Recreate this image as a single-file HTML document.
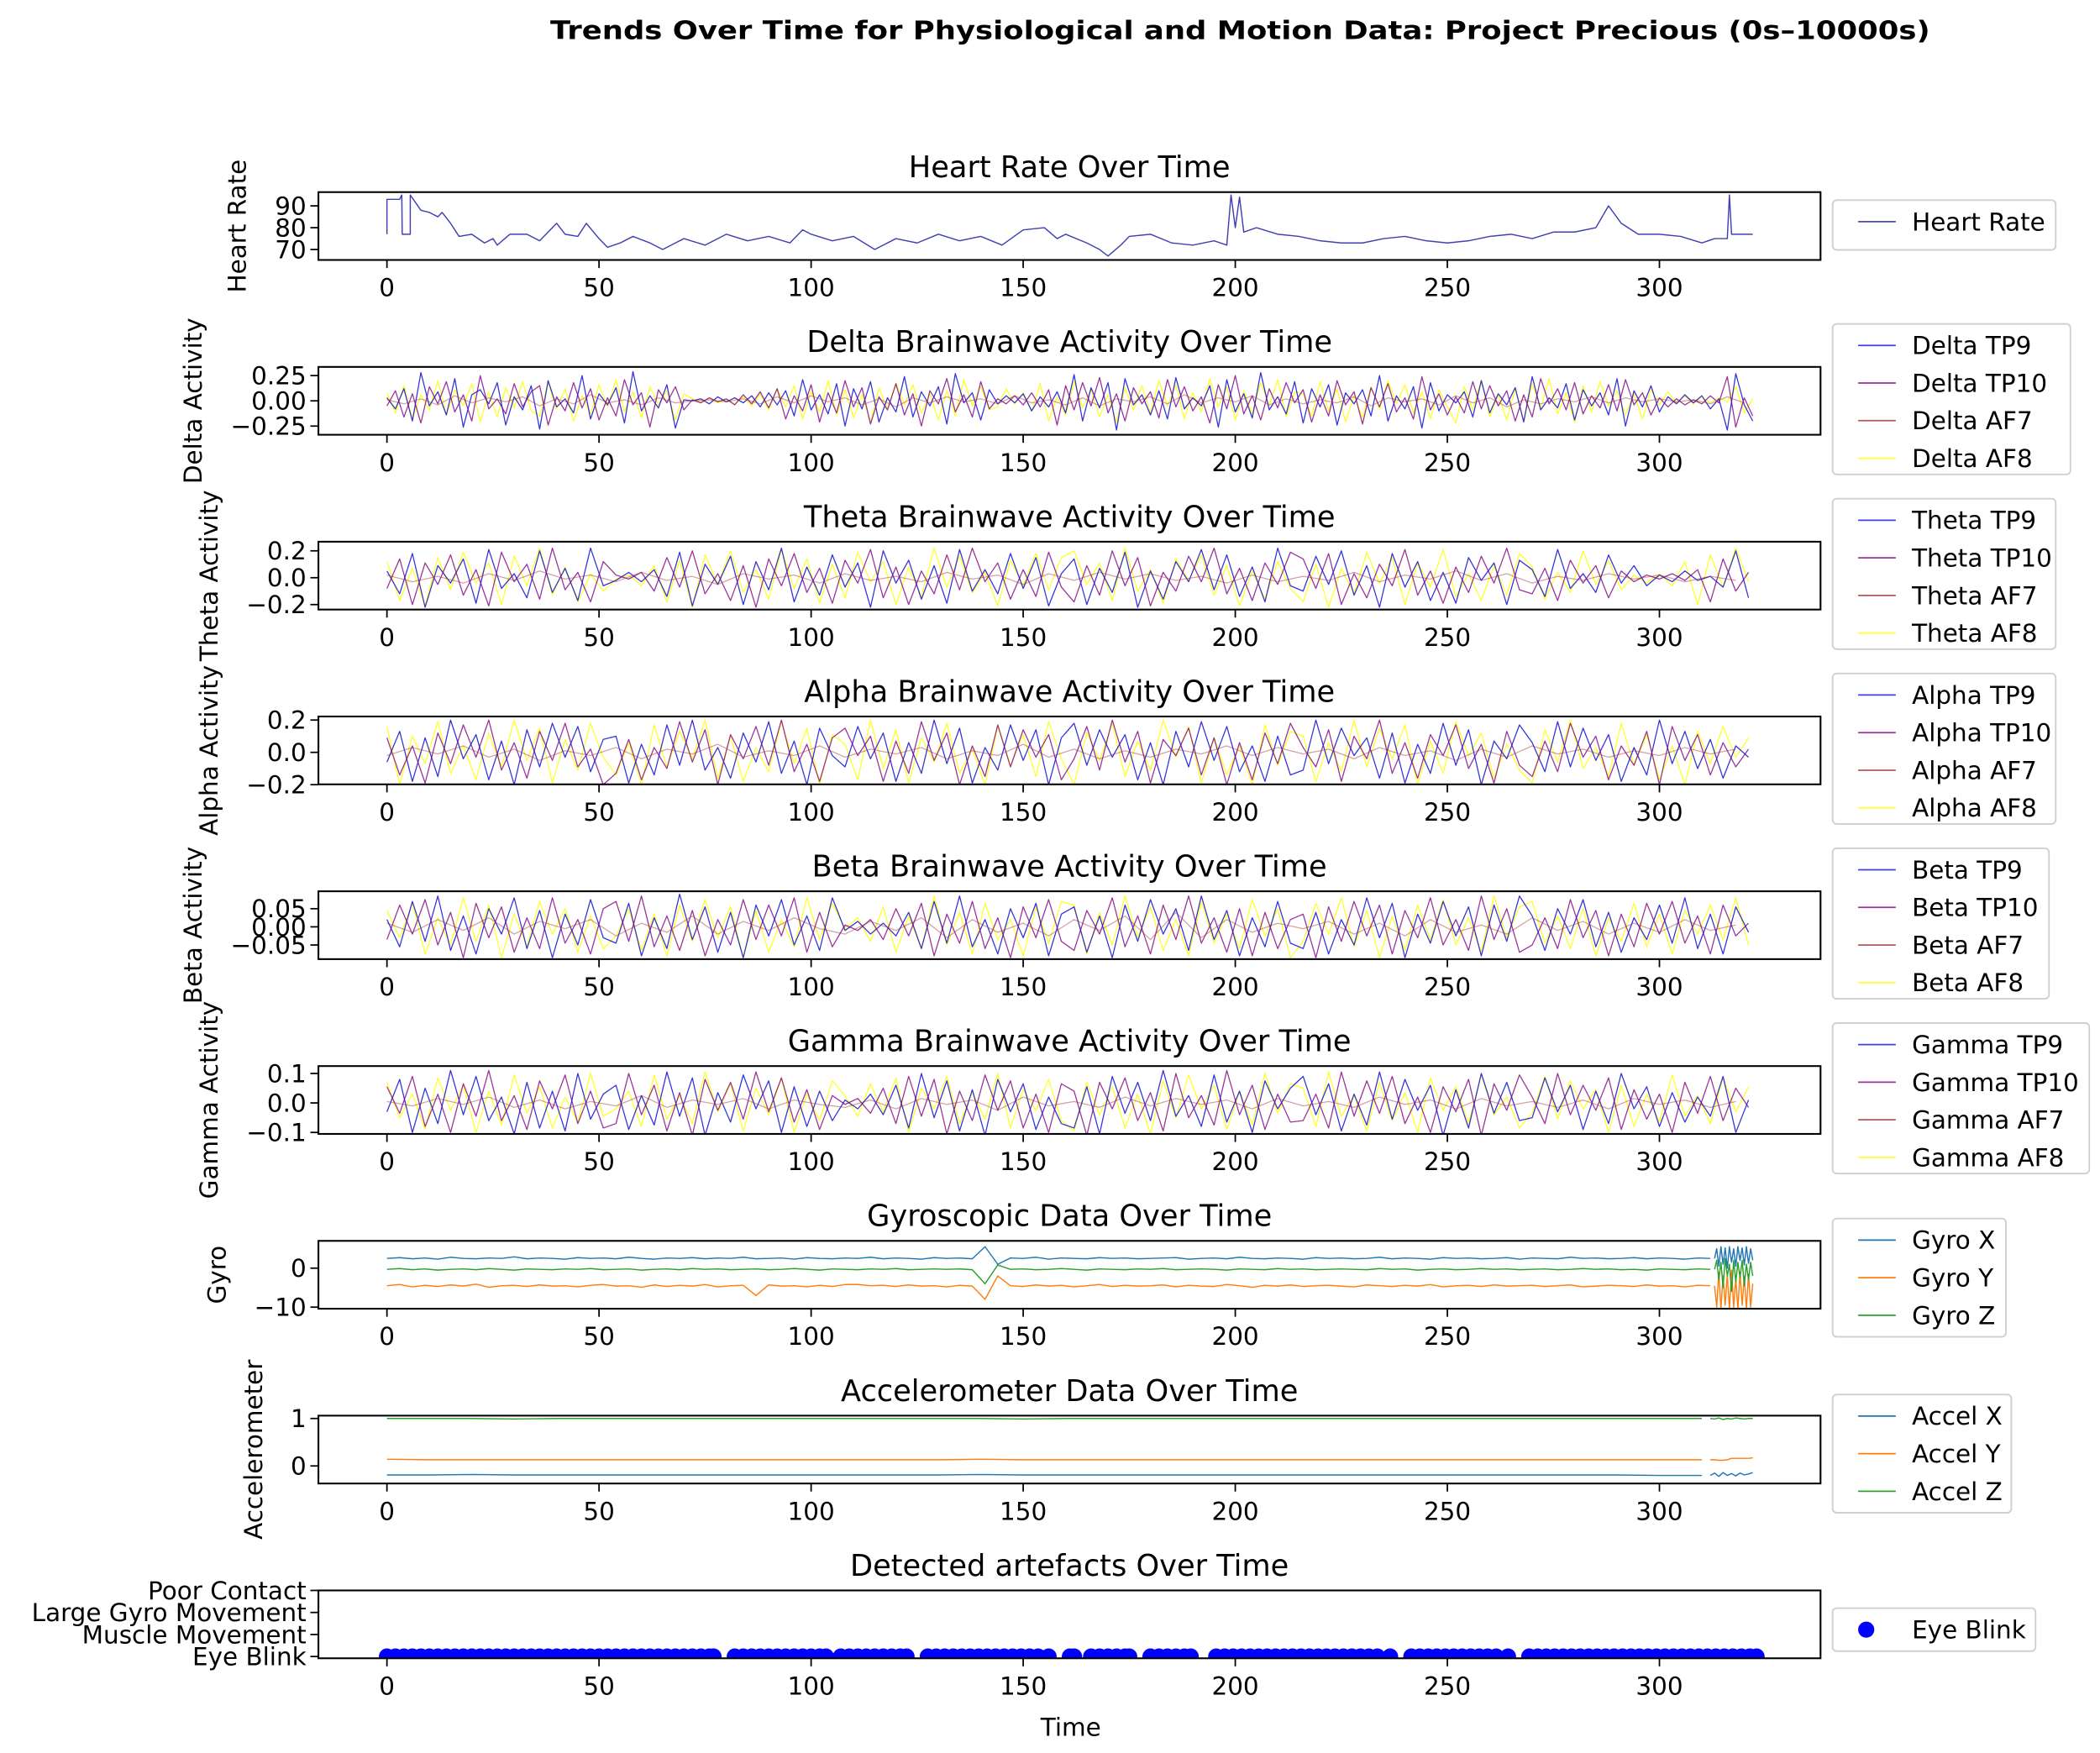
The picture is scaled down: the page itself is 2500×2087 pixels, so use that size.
<!DOCTYPE html>
<html><head><meta charset="utf-8"><title>Trends Over Time</title>
<style>
html,body{margin:0;padding:0;background:#fff;}
svg{display:block;font-family:"DejaVu Sans","Liberation Sans",sans-serif;}
</style></head>
<body>
<svg id="fig" xmlns="http://www.w3.org/2000/svg" width="2500" height="2087" viewBox="0 0 1563 1304.8" preserveAspectRatio="none">
<rect x="0" y="0" width="1563" height="1304.8" fill="#fff"/>
<text x="923" y="29" text-anchor="middle" font-weight="bold" font-size="19" textLength="1027" lengthAdjust="spacingAndGlyphs">Trends Over Time for Physiological and Motion Data: Project Precious (0s–10000s)</text>
<text x="797" y="1292" text-anchor="middle" font-size="18.4">Time</text>
</svg>
<script>
// ---------- data ----------
const xTicks=[0,50,100,150,200,250,300];
const hrT=[0,0,3,3.5,3.6,5.5,5.5,8,10,12,13,15,17,20,23,25,26,29,33,36,38,40,42,45,47,50,52,55,58,62,65,68,70,75,80,85,90,95,98,100,105,110,115,120,125,130,135,140,145,150,155,158,160,165,168,170,173,175,180,185,190,195,198,199,200,201,202,205,210,215,220,225,230,235,240,245,250,255,260,265,270,275,280,285,288,291,295,300,305,310,313,316,316.5,317,322];
const hrV=[77,93,93,95,77,77,95,88,87,85,87,82,76,77,73,75,72,77,77,74,78,82,77,76,82,75,71,73,76,73,70,73,75,72,77,74,76,73,79,77,74,76,70,75,73,77,74,76,72,79,80,75,77,73,70,67,72,76,77,73,72,74,72,95,80,94,78,80,77,76,74,73,73,75,76,74,73,74,76,77,75,78,78,80,90,82,77,77,76,73,75,75,95,77,77];

const deltaTP9=[3,-8,12,-20,28,-5,9,-14,22,-26,6,11,-3,18,-24,4,-9,15,-28,20,-6,2,-12,25,-18,7,-4,13,-22,29,-10,5,-7,16,-27,1,0,2,-3,4,-1,3,-2,5,-6,8,-4,10,-15,21,-9,6,-13,17,-25,12,-8,19,-21,3,-11,24,-16,9,-5,14,-23,27,-2,8,-19,11,-3,5,-2,7,-10,4,-6,9,-12,26,-20,13,-7,18,-29,22,-4,6,-14,10,-18,23,-8,3,-5,15,-26,21,-11,7,-17,28,-9,4,-13,19,-22,12,-6,16,-24,8,-3,11,-15,25,-20,5,-8,14,-27,18,-10,6,-2,9,-16,20,-12,7,-4,13,-21,24,-9,3,-7,17,-19,11,-5,8,-14,22,-25,10,-6,15,-11,4,-3,6,-2,5,-8,2,-29,27,-4,-20];
const deltaTP10=[-5,10,-16,7,-22,14,-3,19,-11,6,-20,25,-8,2,-13,17,-6,9,15,-24,4,-10,18,-7,12,-19,3,-15,21,-4,8,-26,11,-2,14,-9,1,-2,3,-1,2,-4,6,-3,9,-7,12,-18,5,-10,16,-21,8,-12,20,-6,13,-23,4,-9,17,-14,7,-25,10,-3,22,-11,6,-16,19,-8,2,-3,5,-4,8,-6,11,-24,15,-9,18,-5,23,-12,7,-20,13,-3,9,-17,21,-6,14,-10,4,-22,16,-8,25,-13,5,-19,12,-7,18,-2,11,-21,6,-15,20,-4,9,-23,13,-6,17,-11,3,-18,24,-9,7,-14,4,-12,19,-8,15,-5,10,-20,6,-16,22,-3,12,-9,18,-13,5,-7,16,-10,21,-4,8,-14,3,-6,2,-4,1,-3,5,-2,24,-26,3,-15];
const deltaAF7=[1,-3,2,-4,5,-2,3,-1,4,-5,2,-3,6,-2,1,-4,3,-2,0,1,-1,2,-3,4,-2,5,-1,3,-4,2,-6,3,-2,4,-1,2,-3,5,-2,1,-4,3,-5,2,-1,4,-3,6,-2,3,-1,5,-4,2,-3,1,-2,4,-5,3,-1,2,-4,5,-2,3,-6,1,-3,2,-1,4,-2,3,-1,2,-1,1,-3,4,-2];
const deltaAF8=[8,-12,15,-18,6,-9,20,-14,11,-5,17,-21,9,-16,13,-7,19,-10,-15,18,-8,12,-20,5,-13,16,-6,21,-11,9,-17,14,-4,10,-19,7,2,-1,3,-2,1,-3,4,-5,7,-9,12,-6,15,-18,9,-11,20,-14,11,-17,6,-21,13,-8,18,-4,16,-12,7,-19,10,-15,21,-5,14,-9,-6,12,-3,8,-10,17,-20,4,-14,19,-7,11,-16,6,-21,13,-9,15,-12,20,-5,16,-18,8,-11,22,-6,14,-19,10,-13,18,-4,21,-16,9,7,-15,19,-10,12,-21,5,-17,14,-8,20,-3,16,-12,9,-18,11,-6,-22,14,-9,21,-16,6,-19,12,-20,17,-7,22,-13,8,-21,15,-11,19,-5,10,-14,7,-18,12,-4,9,-2,5,-3,4,-2,3,-1,14,-12,2];

const thetaTP9=[5,-12,18,-22,9,-4,14,-19,21,-8,3,-15,20,-11,7,-17,22,-6,-2,4,-3,6,-14,19,-21,10,-5,16,-20,12,-9,22,-18,8,-13,17,-7,11,-22,20,-4,13,-16,9,-19,21,-10,6,-12,18,-8,15,-21,3,14,-20,7,-11,19,-22,5,-16,12,-3,21,-9,17,-14,8,-18,22,-6,-10,16,-5,20,-13,9,-22,18,-7,12,-17,4,-19,15,-2,11,-20,13,6,-14,21,-8,3,-11,17,-4,9,-6,2,-3,5,-2,1,-7,20,-15];
const thetaTP10=[-8,14,-20,11,-5,17,-13,6,-21,19,-3,10,-16,22,-9,4,-18,12,2,-1,4,-10,15,-7,20,-12,3,-17,9,-22,14,-6,18,-11,7,-19,13,-4,21,-15,8,-20,5,-12,17,-9,22,-3,11,-16,6,-14,19,-7,-18,9,-13,20,-6,15,-21,4,-10,16,-3,22,-12,7,-17,11,-5,19,14,-8,18,-20,3,-15,10,-6,21,-13,5,-19,8,-11,16,-4,22,-9,-12,7,-17,13,-4,9,-15,5,-3,2,-1,3,-2,6,-18,14,-10,4];
const thetaAF7=[2,-3,1,-4,3,-2,5,-1,2,-3,4,-2,1,-5,3,-1,2,-4,3,-2,1,-3,4,-1,2,-5,3,-2,4,-1,3,-2,1,-4,2,-3,1,-2,4,-3,2,-1,5,-2,3,-4,1,-2,3,-1,2,-3,1,-2];
const thetaAF8=[12,-17,7,-21,15,-9,19,-4,11,-20,16,-6,22,-13,8,-18,3,-10,-1,2,-6,9,-18,13,-22,17,-5,20,-11,6,-16,21,-8,14,-19,10,-15,19,-3,12,-20,8,-14,22,-7,16,-11,4,-21,13,-6,18,-9,15,20,-5,11,-17,22,-10,6,-19,14,-2,17,-13,9,-21,5,-16,12,-8,-18,10,-22,7,-12,19,-4,15,-20,11,-7,21,-14,3,-17,9,-13,18,8,-16,4,-11,20,-5,13,-9,2,-4,3,-6,12,-20,17,-7,22,-3];

const alphaTP9=[-6,13,-18,9,-15,20,-4,11,-17,7,-20,14,-9,18,-3,16,-12,8,10,-19,5,-14,17,-8,20,-11,3,-16,12,-6,19,-13,7,-20,15,-2,-9,16,-4,12,-18,6,-13,20,-7,15,-19,3,-11,17,-5,14,-20,9,18,-8,14,-3,11,-17,6,-20,13,-9,19,-5,16,-12,4,-18,10,-14,-11,20,-7,15,-2,9,-16,12,-19,5,-13,18,-8,14,-20,7,-4,17,6,-12,19,-9,15,-5,11,-18,3,-14,20,-7,13,-10,8,-16,4,-3];
const alphaTP10=[9,-14,4,-19,12,-7,17,-3,20,-11,6,-16,13,-5,18,-9,2,-20,-13,8,-17,3,-10,19,-6,14,-20,11,-4,16,-8,20,-12,5,-18,9,15,-2,10,-18,7,-13,19,-5,12,-20,4,-15,17,-9,14,-3,11,-17,-4,16,-11,20,-6,13,-19,8,-2,15,-14,9,-20,6,-17,12,-7,18,3,-9,14,-18,10,-4,20,-13,6,-16,11,-2,17,-10,5,-19,13,-8,-15,7,-12,18,-3,10,-17,4,-8,13,-20,16,-5,11,-14,6,-9,2];
const alphaAF7=[-2,3,-1,4,-3,2,-5,1,-2,3,-4,2,-1,5,-3,1,-2,4,-3,2,-1,3,-4,1,-2,5,-3,2,-4,1,-3,2,-1,4,-2,3,-1,2,-4,3,-2,1,-5,2,-3,4,-1,2,-3,1,-2,3,-1,2];
const alphaAF8=[16,-20,10,-7,19,-13,4,-17,12,-9,20,-5,15,-19,8,-11,18,-3,-14,6,-20,17,-9,13,-4,20,-16,10,-18,3,-12,19,-7,15,-20,11,5,-17,20,-10,14,-19,9,-6,18,-13,2,-20,16,-8,11,-15,19,-4,-20,12,-5,18,-15,7,-11,20,-3,16,-19,9,-14,4,-20,17,-8,13,10,-18,6,-12,20,-9,15,-4,17,-20,7,-13,19,-2,12,-16,5,-11,-19,14,-6,20,-10,3,-15,18,-8,11,-17,4,-20,13,-7,16,-3,9];

const betaTP9=[20,-55,70,-40,85,-65,30,-75,50,-20,80,-60,45,-85,35,-50,75,-30,-45,65,-80,25,-60,90,-35,55,-70,40,-85,60,-25,75,-50,30,-65,80,-10,15,-20,10,-25,40,-60,70,-45,85,-55,20,-75,50,-30,65,-80,35,55,-70,30,-85,60,-40,75,-20,50,-65,85,-35,45,-80,25,-55,70,-45,-60,40,-75,20,-50,80,-30,65,-85,35,-45,70,-25,55,-80,60,-40,85,30,-65,50,-20,75,-55,40,-70,25,-35,60,-45,80,-60,35,-75,55,-15];
const betaTP10=[-35,60,-20,75,-50,40,-85,65,-30,55,-70,25,-60,80,-45,20,-75,50,70,-40,85,-55,30,-65,45,-80,20,-50,75,-35,60,-25,80,-70,40,-55,5,-10,20,-35,50,-25,65,-80,35,-45,70,-60,25,-85,55,-30,75,-40,-65,45,-20,80,-55,30,-75,60,-35,85,-45,25,-70,50,-80,40,-60,20,35,-85,55,-40,70,-25,60,-75,45,-30,80,-50,20,-65,85,-35,50,-70,-50,25,-60,75,-30,45,-80,35,-55,65,-20,70,-45,30,-75,60,-25,10];
const betaAF7=[10,-15,20,-10,25,-20,15,-5,20,-25,10,-15,30,-20,15,-10,25,-5,-20,15,-10,25,-30,20,-15,10,-25,20,-10,30,-35,40,-30,20,-15,10,-5,15,-20,10,-25,20,-15,5,-20,25,-10,15,-20,10,-15,20,-10,5];
const betaAF8=[45,-30,65,-75,25,-50,80,-40,60,-85,35,-55,70,-20,50,-70,30,-60,-25,50,-65,35,-80,60,-40,75,-30,55,-85,45,-70,20,-55,80,-35,65,-5,25,-40,55,-70,30,-60,85,-50,40,-75,65,-35,20,-80,55,-45,70,60,-75,40,-50,85,-30,55,-65,20,-80,70,-45,35,-60,75,-25,50,-85,-40,65,-20,80,-55,45,-85,30,-65,60,-35,75,-50,25,-70,85,-30,55,70,-45,30,-60,50,-80,25,-40,65,-55,35,-75,45,-20,60,-35,80,-50];

const gammaTP9=[-30,80,-100,50,-70,110,-40,90,-60,20,-105,70,-85,40,-95,100,-55,30,60,-90,25,-75,105,-45,85,-110,35,-65,95,-20,75,-100,55,-80,40,-60,10,-20,30,-40,60,-85,100,-50,75,-95,45,-110,80,-30,65,-90,20,-70,-85,55,-105,90,-35,70,-60,110,-45,25,-80,95,-65,40,-100,75,-20,50,90,-40,65,-95,30,-75,105,-55,80,-25,60,-110,45,-85,100,-35,70,-60,-50,85,-30,60,-90,40,-70,100,-20,55,-80,35,-65,20,-45,90,-100,10];
const gammaTP10=[55,-35,90,-80,30,-100,65,-45,110,-60,25,-90,75,-20,95,-70,40,-85,-70,100,-40,60,-95,35,-110,80,-25,70,-55,105,-30,85,-65,45,-90,25,-5,15,-35,50,-70,90,-45,80,-105,40,-60,95,-25,75,-85,30,-100,65,40,-110,70,-20,85,-60,35,-95,100,-50,25,-75,110,-40,60,-90,30,-65,-60,30,-85,105,-45,75,-35,90,-70,20,-100,55,-30,80,-110,65,-25,95,20,-70,100,-40,60,-25,85,-90,45,-55,30,-100,70,-35,90,-60,50,-15];
const gammaAF7=[5,-10,15,-5,20,-15,10,-20,5,-10,25,-15,10,-5,15,-20,10,-5,-15,10,-20,15,-5,10,-25,20,-10,5,-15,20,-10,15,-5,10,-20,15,-10,5,-15,20,-5,10,-20,15,-10,5,-15,10,-20,15,-5,10,-15,5];
const gammaAF8=[70,-50,30,-90,85,-25,60,-100,40,-75,95,-35,55,-85,20,-65,100,-45,-20,40,-80,95,-55,25,-70,105,-30,65,-95,50,-40,85,-100,30,-60,75,25,-45,65,-30,85,-100,50,-20,90,-70,35,-55,100,-85,45,-25,80,-60,-95,70,-40,55,-85,30,-105,75,-50,95,-20,60,-90,40,-75,100,-35,65,50,-80,105,-45,25,-95,70,-60,35,-100,85,-25,55,-70,95,-40,20,-85,-35,90,-55,75,-20,45,-100,60,-80,30,-65,95,-45,25,-70,85,-30,55];

const gyroX=[25,27,24,26,23,28,25,24,26,25,29,24,26,25,23,27,25,26,24,28,25,23,26,25,27,24,26,25,28,24,25,26,23,27,25,24,26,25,28,24,26,25,23,27,25,26,24,55,10,26,25,28,23,26,25,24,27,25,26,24,25,26,27,23,25,26,24,28,25,24,26,25,23,27,25,26,24,25,28,24,26,25,23,27,25,26,24,25,27,23,26,25,24,28,25,26,24,25,27,24,26,25,23,26,25];
const gyroY=[-45,-42,-48,-44,-47,-43,-46,-41,-49,-45,-44,-47,-43,-46,-45,-48,-44,-42,-46,-45,-49,-43,-47,-44,-46,-42,-48,-45,-44,-70,-43,-46,-45,-48,-44,-47,-42,-42,-45,-44,-47,-43,-46,-45,-48,-44,-46,-80,-20,-45,-47,-43,-46,-44,-48,-45,-42,-47,-44,-46,-45,-43,-48,-44,-46,-47,-42,-45,-49,-44,-46,-43,-47,-45,-44,-46,-48,-43,-45,-47,-44,-46,-42,-48,-45,-44,-47,-43,-46,-45,-44,-47,-45,-43,-48,-46,-44,-45,-47,-43,-46,-45,-48,-44,-45];
const gyroZ=[-3,-1,-4,-2,-5,-3,-2,-4,-1,-3,-5,-2,-3,-4,-2,-3,-1,-4,-3,-2,-5,-3,-2,-4,-1,-3,-2,-4,-3,-2,-4,-3,-1,-3,-5,-2,-3,-4,-2,-3,-1,-4,-3,-2,-3,-2,-4,-40,8,-3,-2,-4,-3,-1,-3,-5,-2,-3,-4,-2,-3,-1,-4,-3,-2,-3,-5,-2,-3,-4,-1,-3,-2,-4,-3,-2,-3,-4,-1,-3,-2,-5,-3,-2,-4,-3,-1,-3,-2,-4,-3,-2,-4,-3,-1,-3,-2,-4,-3,-5,-2,-3,-4,-2,-3];
const gyroTailT=[313,313.5,314,314.5,315,315.5,316,316.5,317,317.5,318,318.5,319,319.5,320,320.5,321,321.5,322];
const gyroTailX=[25,50,5,55,10,52,0,55,15,50,5,55,20,52,8,55,12,50,20];
const gyroTailY=[-45,-100,-10,-105,-20,-95,-15,-105,-5,-100,-25,-105,-10,-95,-20,-105,-15,-100,-40];
const gyroTailZ=[-3,20,-30,15,-50,25,-20,10,-60,20,-35,15,-25,20,-45,10,-30,15,-20];

const accelX=[-19,-19,-18,-19,-19,-19,-19,-19,-19,-19,-19,-19,-19,-19,-18,-19,-19,-19,-19,-19,-19,-19,-19,-19,-19,-19,-19,-19,-19,-19,-20,-20];
const accelY=[14,13,13,13,13,13,13,13,13,13,13,13,13,13,14,13,13,13,13,13,13,13,13,13,13,13,13,13,13,13,13,13];
const accelZ=[100,100,100,99,100,100,100,100,100,100,100,100,100,100,100,99,100,100,100,100,100,100,100,100,100,100,100,100,100,100,100,100];
const accelTailT=[312,313,314,315,316,317,318,319,320,321,322];
const accelTailX=[-20,-15,-22,-14,-20,-16,-21,-15,-19,-17,-14];
const accelTailY=[13,13,12,12,13,16,16,16,16,16,17];
const accelTailZ=[100,99,101,98,100,99,101,100,99,100,100];

const blinkTimes=[0,2,4,6,8,10,12,14,16,18,20,22,24,26,28,30,32,34,36,38,40,42,44,46,48,50,52,54,56,58,60,62,64,66,68,70,72,74,76,77,
82,84,86,88,90,92,94,96,98,100,102,103.5,
107,109,111,113,115,117,119,121,122.5,
127.5,129.5,131.5,133.5,135.5,137.5,139.5,141.5,143.5,145.5,147.5,149.5,151.5,153.5,156,
161,162,166,168,170,172,174,175,180,182,184,186,188,189.5,
195.5,197.5,199.5,201.5,203.5,205.5,207.5,209.5,211.5,213.5,215.5,217.5,219.5,221.5,223.5,225.5,227.5,229.5,231.5,233.5,236.5,
241.5,243.5,245.5,247.5,249.5,251.5,253.5,255.5,257.5,259.5,261.5,264.3,
269.3,271.3,273.3,275.3,277.3,279.3,281.3,283.3,285.3,287.3,289.3,291.3,293.3,295.3,297.3,299.3,301.3,303.3,305.3,307.3,309.3,311.3,313.3,315.3,317.3,319.3,321.3,322.9];
const artefactLabels=["Eye Blink","Muscle Movement","Large Gyro Movement","Poor Contact"];

// ---------- drawing ----------
const NS="http://www.w3.org/2000/svg";
const svg=document.getElementById('fig');
const AX_L=237, AX_R=1355, PH=50.5;
const FS=18.4, TFS=22;
function X(t){return 288+t*3.157;}
function mk(tag,attrs,parent){const e=document.createElementNS(NS,tag);for(const k in attrs)e.setAttribute(k,attrs[k]);(parent||svg).appendChild(e);return e;}

function makePanel(idx,title,ylim,yt,ytl,ylab,ylabX){
  const top=143+130.1*idx, bot=top+PH;
  const g=mk('g',{});
  
  
  const Y=v=>bot-(v-ylim[0])/(ylim[1]-ylim[0])*PH;
  const t=mk('text',{x:796,y:top-11,'text-anchor':'middle','font-size':TFS},g);
  t.textContent=title;
  
  
  const xa=mk('g',{},g);
  
  
  xTicks.forEach(v=>{
    mk('line',{x1:X(v),x2:X(v),y1:bot,y2:bot+6,stroke:'#000','stroke-width':1.1},xa);
    const l=mk('text',{x:X(v),y:bot+27,'text-anchor':'middle','font-size':FS},xa);
    l.textContent=v;
    
    
  });
  const ya=mk('g',{},g);
  
  
  yt.forEach((v,i)=>{
    mk('line',{x1:AX_L-6,x2:AX_L,y1:Y(v),y2:Y(v),stroke:'#000','stroke-width':1.1},ya);
    const l=mk('text',{x:AX_L-9,y:Y(v)+6.5,'text-anchor':'end','font-size':FS},ya);
    l.textContent=ytl[i];
    
    
  });
  if(ylab){
    const yl=mk('text',{x:ylabX,y:top+PH/2,'text-anchor':'middle','font-size':FS,transform:'rotate(-90 '+ylabX+' '+(top+PH/2)+')'},g);
    yl.textContent=ylab;
    
    
  }
  const clip=mk('clipPath',{id:'clip'+idx},g);
  mk('rect',{x:AX_L,y:top,width:AX_R-AX_L,height:PH},clip);
  const plot=mk('g',{'clip-path':'url(#clip'+idx+')'},g);
  
  
  const frame=mk('rect',{x:AX_L,y:top,width:AX_R-AX_L,height:PH,fill:'none',stroke:'#000','stroke-width':1.3},g);
  
  
  return {g,plot,Y,top,bot,frame};
}
function line(p,ts,vs,scale,color,w,op,name){
  const pts=vs.map((v,i)=>X(ts(i)).toFixed(2)+','+p.Y(v*scale).toFixed(2)).join(' ');
  const pl=mk('polyline',{points:pts,fill:'none',stroke:color,'stroke-width':w,'stroke-opacity':op,'stroke-linejoin':'round'},p.plot);
  
  
  return pl;
}
function legend(top,h,w,items){
  const lg=mk('g',{});
  
  
  mk('rect',{x:1364,y:top,width:w,height:h,rx:3,fill:'#fff','fill-opacity':0.8,stroke:'#d0d0d0','stroke-width':1.2},lg);
  items.forEach((it,i)=>{
    const cy=top+16+28*i;
    const e=mk('g',{},lg);
    
    
    if(it.dot) mk('circle',{cx:1389,cy:cy,r:6,fill:it.color},e);
    else mk('line',{x1:1383,x2:1411,y1:cy,y2:cy,stroke:it.color,'stroke-width':1.1,'stroke-opacity':it.op||1},e);
    const t=mk('text',{x:1423,y:cy+6.5,'font-size':FS},e);
    t.textContent=it.label;
  });
}

// Heart rate
const hr=makePanel(0,'Heart Rate Over Time',[65.2,96.3],[70,80,90],['70','80','90'],'Heart Rate',183);
line(hr,i=>hrT[i],hrV,1,'#2b2ba8',0.9,0.9,'heart-rate-line');
legend(149,37,166,[{label:'Heart Rate',color:'#4a4ab0'}]);

// EEG bands
const bands=[
 {n:'Delta',idx:1,lim:[-0.336,0.336],yt:[-0.25,0,0.25],ytl:['−0.25','0.00','0.25'],sc:0.01,d:[deltaTP9,deltaTP10,deltaAF7,deltaAF8],st:[2,2,4,2],lx:150,lw:177},
 {n:'Theta',idx:2,lim:[-0.237,0.268],yt:[-0.2,0,0.2],ytl:['−0.2','0.0','0.2'],sc:0.01,d:[thetaTP9,thetaTP10,thetaAF7,thetaAF8],st:[3,3,6,3],lx:162,lw:166},
 {n:'Alpha',idx:3,lim:[-0.198,0.222],yt:[-0.2,0,0.2],ytl:['−0.2','0.0','0.2'],sc:0.01,d:[alphaTP9,alphaTP10,alphaAF7,alphaAF8],st:[3,3,6,3],lx:162,lw:166},
 {n:'Beta',idx:4,lim:[-0.089,0.098],yt:[-0.05,0,0.05],ytl:['−0.05','0.00','0.05'],sc:0.001,d:[betaTP9,betaTP10,betaAF7,betaAF8],st:[3,3,6,3],lx:150,lw:161},
 {n:'Gamma',idx:5,lim:[-0.105,0.125],yt:[-0.1,0,0.1],ytl:['−0.1','0.0','0.1'],sc:0.001,d:[gammaTP9,gammaTP10,gammaAF7,gammaAF8],st:[3,3,6,3],lx:162,lw:191}
];
const chan=['TP9','TP10','AF7','AF8'];
const chanCol=['#1010d0','#800080','#a03030','#ffff00'];
const chanOp=[0.85,0.8,0.45,0.85];
bands.forEach(b=>{
  const p=makePanel(b.idx,b.n+' Brainwave Activity Over Time',b.lim,b.yt,b.ytl,b.n+' Activity',b.lx);
  [3,0,1,2].forEach(c=>{
    const s=b.st[c];
    line(p,i=>i*s,b.d[c],b.sc,chanCol[c],0.8,chanOp[c],b.n.toLowerCase()+'-'+chan[c].toLowerCase()+'-line');
  });
  const lt=p.top-32;
  legend(lt,112,b.lw,chan.map((c,i)=>({label:b.n+' '+c,color:chanCol[i],op:0.8})));
});

// Gyro
const gy=makePanel(6,'Gyroscopic Data Over Time',[-10.4,7.0],[-10,0],['−10','0'],'Gyro',168);
const gcol=['#1f77b4','#ff7f0e','#2ca02c'];
line(gy,i=>i*3,gyroY,0.1,gcol[1],0.9,1,'gyro-y-line');
line(gy,i=>gyroTailT[i],gyroTailY,0.1,gcol[1],0.9,1,'gyro-y-tail');
line(gy,i=>i*3,gyroZ,0.1,gcol[2],0.9,1,'gyro-z-line');
line(gy,i=>gyroTailT[i],gyroTailZ,0.1,gcol[2],0.9,1,'gyro-z-tail');
line(gy,i=>i*3,gyroX,0.1,gcol[0],0.9,1,'gyro-x-line');
line(gy,i=>gyroTailT[i],gyroTailX,0.1,gcol[0],0.9,1,'gyro-x-tail');
legend(907,88,129,[{label:'Gyro X',color:gcol[0]},{label:'Gyro Y',color:gcol[1]},{label:'Gyro Z',color:gcol[2]}]);

// Accel
const ac=makePanel(7,'Accelerometer Data Over Time',[-0.37,1.06],[0,1],['0','1'],'Accelerometer',195);
line(ac,i=>i*10,accelX,0.01,gcol[0],0.9,1,'accel-x-line');
line(ac,i=>accelTailT[i],accelTailX,0.01,gcol[0],0.9,1,'accel-x-tail');
line(ac,i=>i*10,accelY,0.01,gcol[1],0.9,1,'accel-y-line');
line(ac,i=>accelTailT[i],accelTailY,0.01,gcol[1],0.9,1,'accel-y-tail');
line(ac,i=>i*10,accelZ,0.01,gcol[2],0.9,1,'accel-z-line');
line(ac,i=>accelTailT[i],accelTailZ,0.01,gcol[2],0.9,1,'accel-z-tail');
legend(1038,88,133,[{label:'Accel X',color:gcol[0]},{label:'Accel Y',color:gcol[1]},{label:'Accel Z',color:gcol[2]}]);

// Artefacts
const ar=makePanel(8,'Detected artefacts Over Time',[-0.08,3.0],[0,1,2,3],artefactLabels,null,0);
blinkTimes.forEach(t=>{
  const c=mk('circle',{cx:X(t),cy:ar.Y(0),r:6,fill:'#0000ff'},ar.plot);
  
  
});
svg.appendChild(ar.frame);
legend(1197,32,151,[{label:'Eye Blink',color:'#0000ff',dot:true}]);
</script>
</body></html>
